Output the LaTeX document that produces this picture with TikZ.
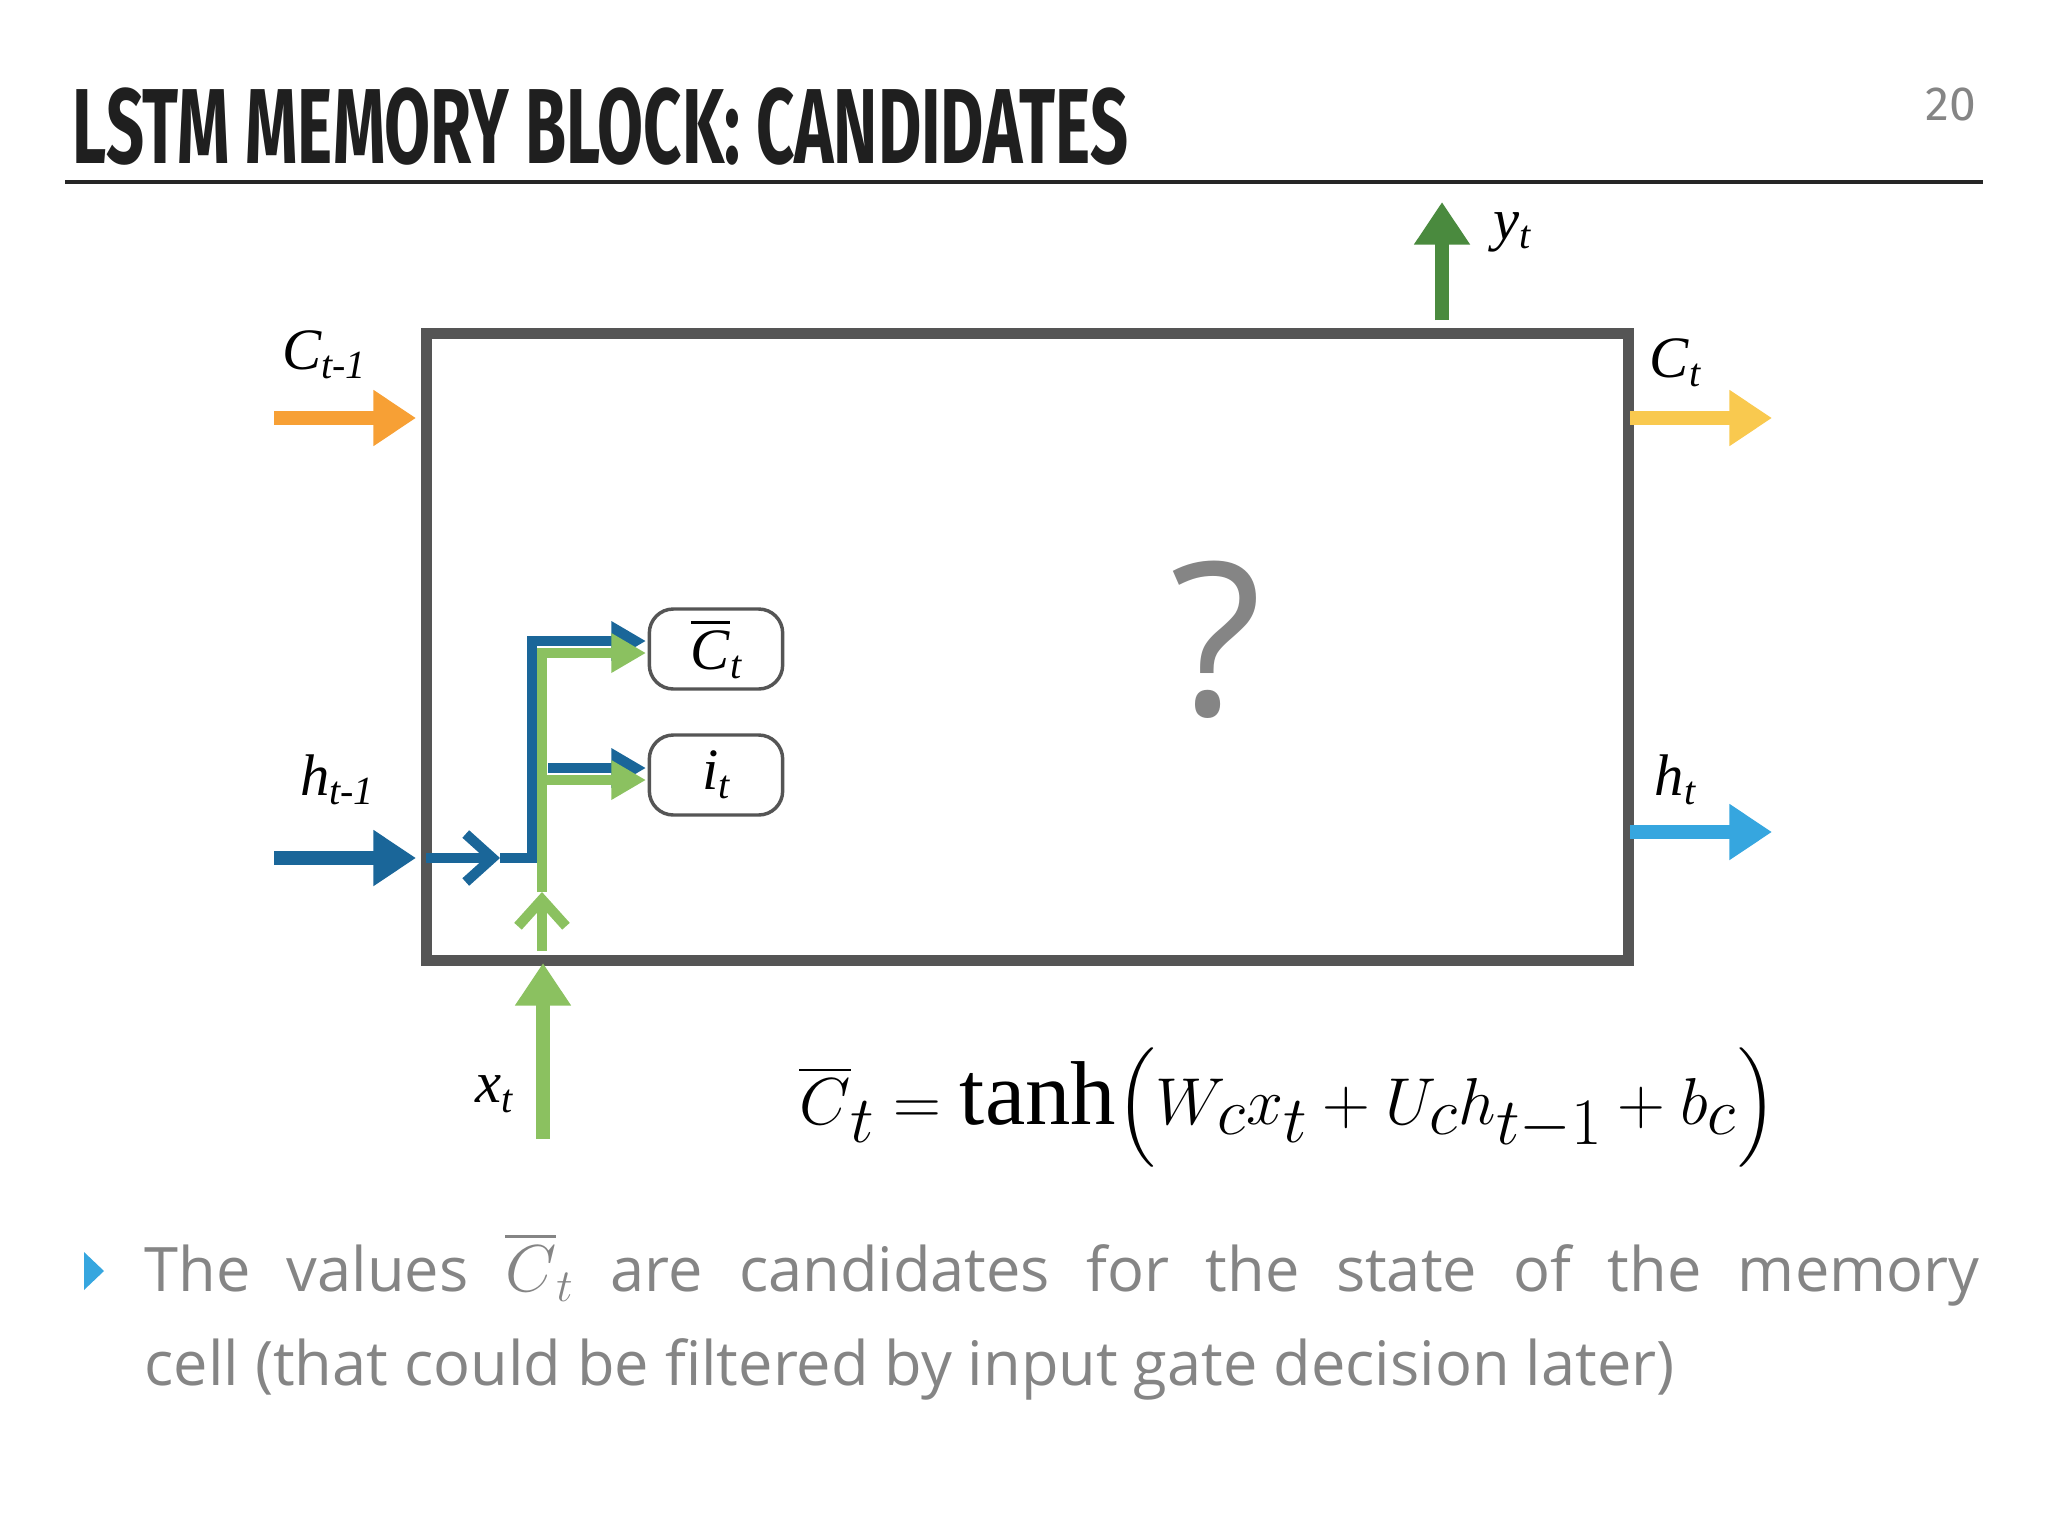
\documentclass[tikz,border=0pt]{standalone}
\usepackage{amsmath}
\usepackage{fontspec}
\setmainfont{Open Sans}
\newfontfamily\titlef{Fira Sans}
\newfontfamily\serif{Liberation Serif}
\usetikzlibrary{arrows.meta}
\definecolor{boxgray}{HTML}{555555}
\definecolor{corange}{HTML}{F7A035}
\definecolor{cyellow}{HTML}{F9C94F}
\definecolor{dblue}{HTML}{1A6699}
\definecolor{lblue}{HTML}{36A6DF}
\definecolor{dgreen}{HTML}{4A8A3E}
\definecolor{lgreen}{HTML}{8BC160}
\definecolor{txtgray}{HTML}{858585}
\newcommand{\isub}[2]{{\serif\itshape #1\raisebox{-0.35ex}{\fontsize{15}{15}\selectfont #2}}}
\tikzset{
  big/.style={line width=5pt,-{Triangle[length=16pt,width=20pt]}},
  inner/.style={line width=3.8pt},
  tipin/.style={-{Triangle[length=13pt,width=14pt]}},
  openin/.style={-{Straight Barb[length=10pt,width=18pt,line width=3.8pt]}},
  gate/.style={draw=boxgray,line width=1.3pt,rounded corners=9pt,minimum width=50pt,minimum height=30pt,fill=white,font=\fontsize{22}{22}\selectfont},
  lab/.style={font=\fontsize{22}{22}\selectfont},
}
\begin{document}
\begin{tikzpicture}[x=0.375pt,y=-0.375pt]
\useasboundingbox (0,0) rectangle (2048,1536);
\node[anchor=base west,inner sep=0,text=black!88] (title) at (72,163) {\titlef\bfseries\fontsize{40}{40}\selectfont\scalebox{0.625}[1]{LSTM MEMORY BLOCK: CANDIDATES}};
\coordinate (l1) at (65,182); \coordinate (l2) at (1983,182);
\draw[line width=1.2pt,black!85] (l1) -- (l2);
\node[text=txtgray,font=\titlef\fontsize{18}{18}\selectfont] (pg) at (1951,104) {20};
% box
\node[draw=boxgray,line width=4pt,minimum width=1202*0.375pt,minimum height=627*0.375pt,anchor=north west,inner sep=0] (box) at (421,328) {};
% outer arrows
\coordinate (c0) at (274,418); \coordinate (c1) at (416,418);
\draw[big,corange] (c0) -- (c1);
\node[lab] (clab) at (324,355) {\isub{C}{t-1}};
\coordinate (h0) at (274,858); \coordinate (h1) at (416,858);
\draw[big,dblue] (h0) -- (h1);
\node[lab] (hlab) at (337,780) {\isub{h}{t-1}};
\coordinate (ct0) at (1630,418); \coordinate (ct1) at (1772,418);
\draw[big,cyellow] (ct0) -- (ct1);
\node[lab] (ctlab) at (1675,363) {\isub{C}{t}};
\coordinate (ht0) at (1630,832); \coordinate (ht1) at (1772,832);
\draw[big,lblue] (ht0) -- (ht1);
\node[lab] (htlab) at (1675,780) {\isub{h}{t}};
\coordinate (y0) at (1442,320); \coordinate (y1) at (1442,202);
\draw[big,dgreen] (y0) -- (y1);
\node[lab] (ylab) at (1512,232) {\isub{y}{t}};
\coordinate (x0) at (543,1139); \coordinate (x1) at (543,963);
\draw[big,lgreen] (x0) -- (x1);
\node[lab] (xlab) at (494,1094) {\isub{x}{t}};
% gates
\node[gate] (cg) at (716,649) {\isub{$\overline{\text{\serif\itshape C}}$}{t}};
\node[gate] (ig) at (716,775) {\isub{i}{t}};
% inner blue
\coordinate (b0) at (426,858); \coordinate (b1) at (500,858);
\draw[inner,dblue,openin] (b0) -- (b1);
\coordinate (b2) at (532,858); \coordinate (b3) at (532,641); \coordinate (b4) at (646,641);
\draw[inner,dblue,tipin] (b1) -- (b2) -- (b3) -- (b4);
\coordinate (b5) at (548,768); \coordinate (b6) at (646,768);
\draw[inner,dblue,tipin] (b5) -- (b6);
% inner green
\coordinate (g0) at (542,951); \coordinate (g1) at (542,892);
\draw[inner,lgreen,openin] (g0) -- (g1);
\coordinate (g2) at (542,653); \coordinate (g3) at (646,653);
\draw[inner,lgreen,tipin] (g1) -- (g2) -- (g3);
\coordinate (g4) at (542,780); \coordinate (g5) at (646,780);
\draw[inner,lgreen,tipin] (g4) -- (g5);
\node[text=txtgray,font=\fontsize{80}{80}\selectfont] (q) at (1216,640) {?};
% equation
\node[font=\fontsize{34}{34}\selectfont\serif] (eq) at (1288,1108) {$\overline{C}_t = \text{\serif tanh}\Bigl(W_c x_t + U_c h_{t-1} + b_c\Bigr)$};
% bullet
\coordinate (t1) at (84,1252); \coordinate (t2) at (84,1290); \coordinate (t3) at (104,1271);
\fill[lblue] (t1) -- (t2) -- (t3) -- cycle;
\node[anchor=north west,inner sep=0,text=txtgray,text width=1835*0.375pt,align=justify,font=\fontsize{23}{35.5}\selectfont] (txt) at (144,1232) {The values $\overline{C}_t$ are candidates for the state of the memory\linebreak cell (that could be filtered by input gate decision later)};
\end{tikzpicture}
\end{document}
